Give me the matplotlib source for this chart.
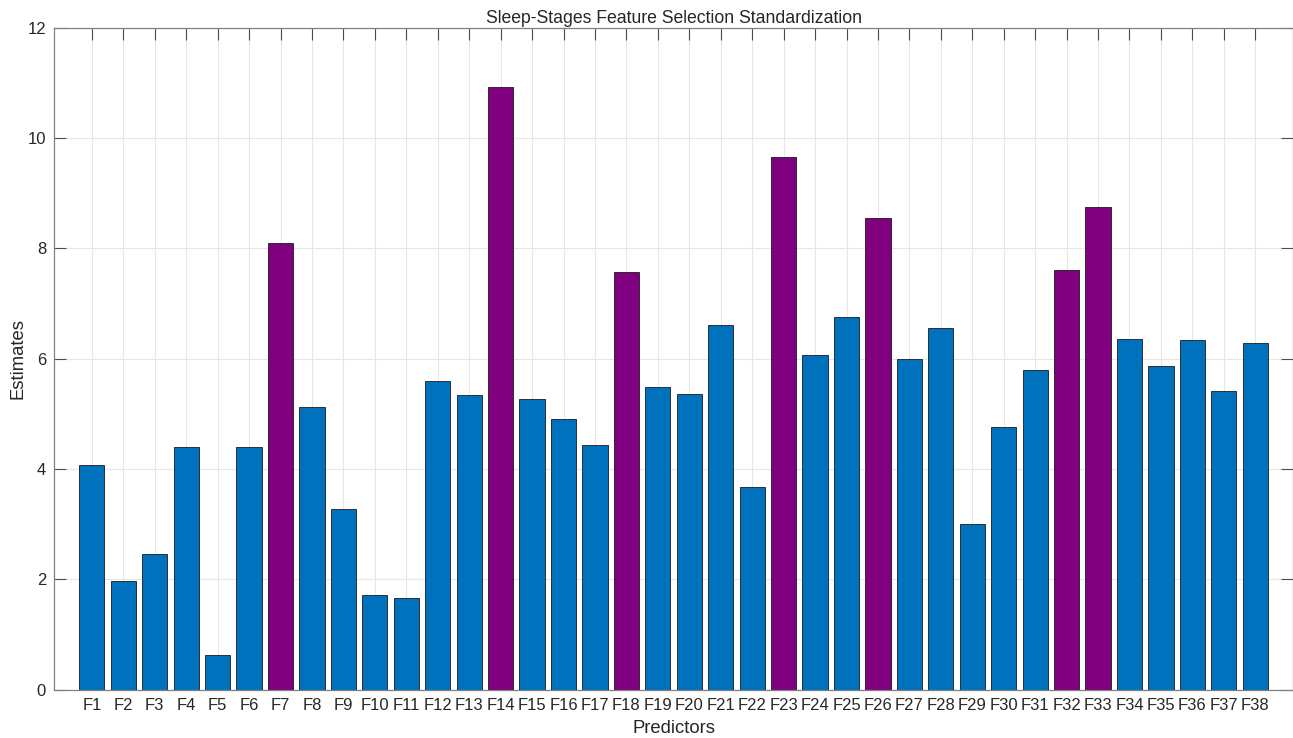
import matplotlib
matplotlib.use("Agg")
import matplotlib.pyplot as plt
import numpy as np

predictors = [f"F{i}" for i in range(1, 39)]
estimates = [4.07, 1.96, 2.46, 4.40, 0.63, 4.39, 8.10, 5.13, 3.28, 1.72,
             1.66, 5.59, 5.33, 10.93, 5.27, 4.90, 4.43, 7.57, 5.49, 5.36,
             6.60, 3.68, 9.66, 6.07, 6.76, 8.55, 5.99, 6.56, 3.00, 4.75,
             5.79, 7.60, 8.75, 6.36, 5.86, 6.34, 5.42, 6.28]
selected = ["F7", "F14", "F18", "F23", "F26", "F32", "F33"]

blue = "#0072BD"
purple = "#800080"
colors = [purple if p in selected else blue for p in predictors]

plt.rcParams["font.family"] = ["Liberation Sans", "DejaVu Sans"]

fig = plt.figure(figsize=(12.93, 7.38), dpi=100)
ax = fig.add_axes([0.0421, 0.0657, 0.9579, 0.897])

x = np.arange(1, len(predictors) + 1)
ax.bar(x, estimates, width=0.8, color=colors, edgecolor="#1a1a1a",
       linewidth=0.6, zorder=3)

ax.set_xlim(-0.19, 39.2)
ax.set_ylim(0, 12)
ax.set_xticks(x)
ax.set_xticklabels(predictors)
ax.set_yticks(np.arange(0, 13, 2))

ax.grid(True, color="#e6e6e6", linewidth=0.8, zorder=0)
ax.set_axisbelow(False)
for s in ax.spines.values():
    s.set_color("#808080")
    s.set_linewidth(0.9)
    s.set_zorder(4)

ax.tick_params(axis="both", direction="in", length=8.5, width=0.8,
               color="#4d4d4d", labelsize=12, labelcolor="#262626",
               top=True, right=True, pad=6)
for t in ax.xaxis.get_major_ticks() + ax.yaxis.get_major_ticks():
    t.tick1line.set_zorder(5)
    t.tick2line.set_zorder(5)

ax.set_title("Sleep-Stages Feature Selection Standardization", fontsize=12.7,
             color="#262626", pad=3)
ax.set_xlabel("Predictors", fontsize=13.3, color="#262626", labelpad=5)
ax.set_ylabel("Estimates", fontsize=13.3, color="#262626", labelpad=1)

fig.savefig("out.png", dpi=100)
